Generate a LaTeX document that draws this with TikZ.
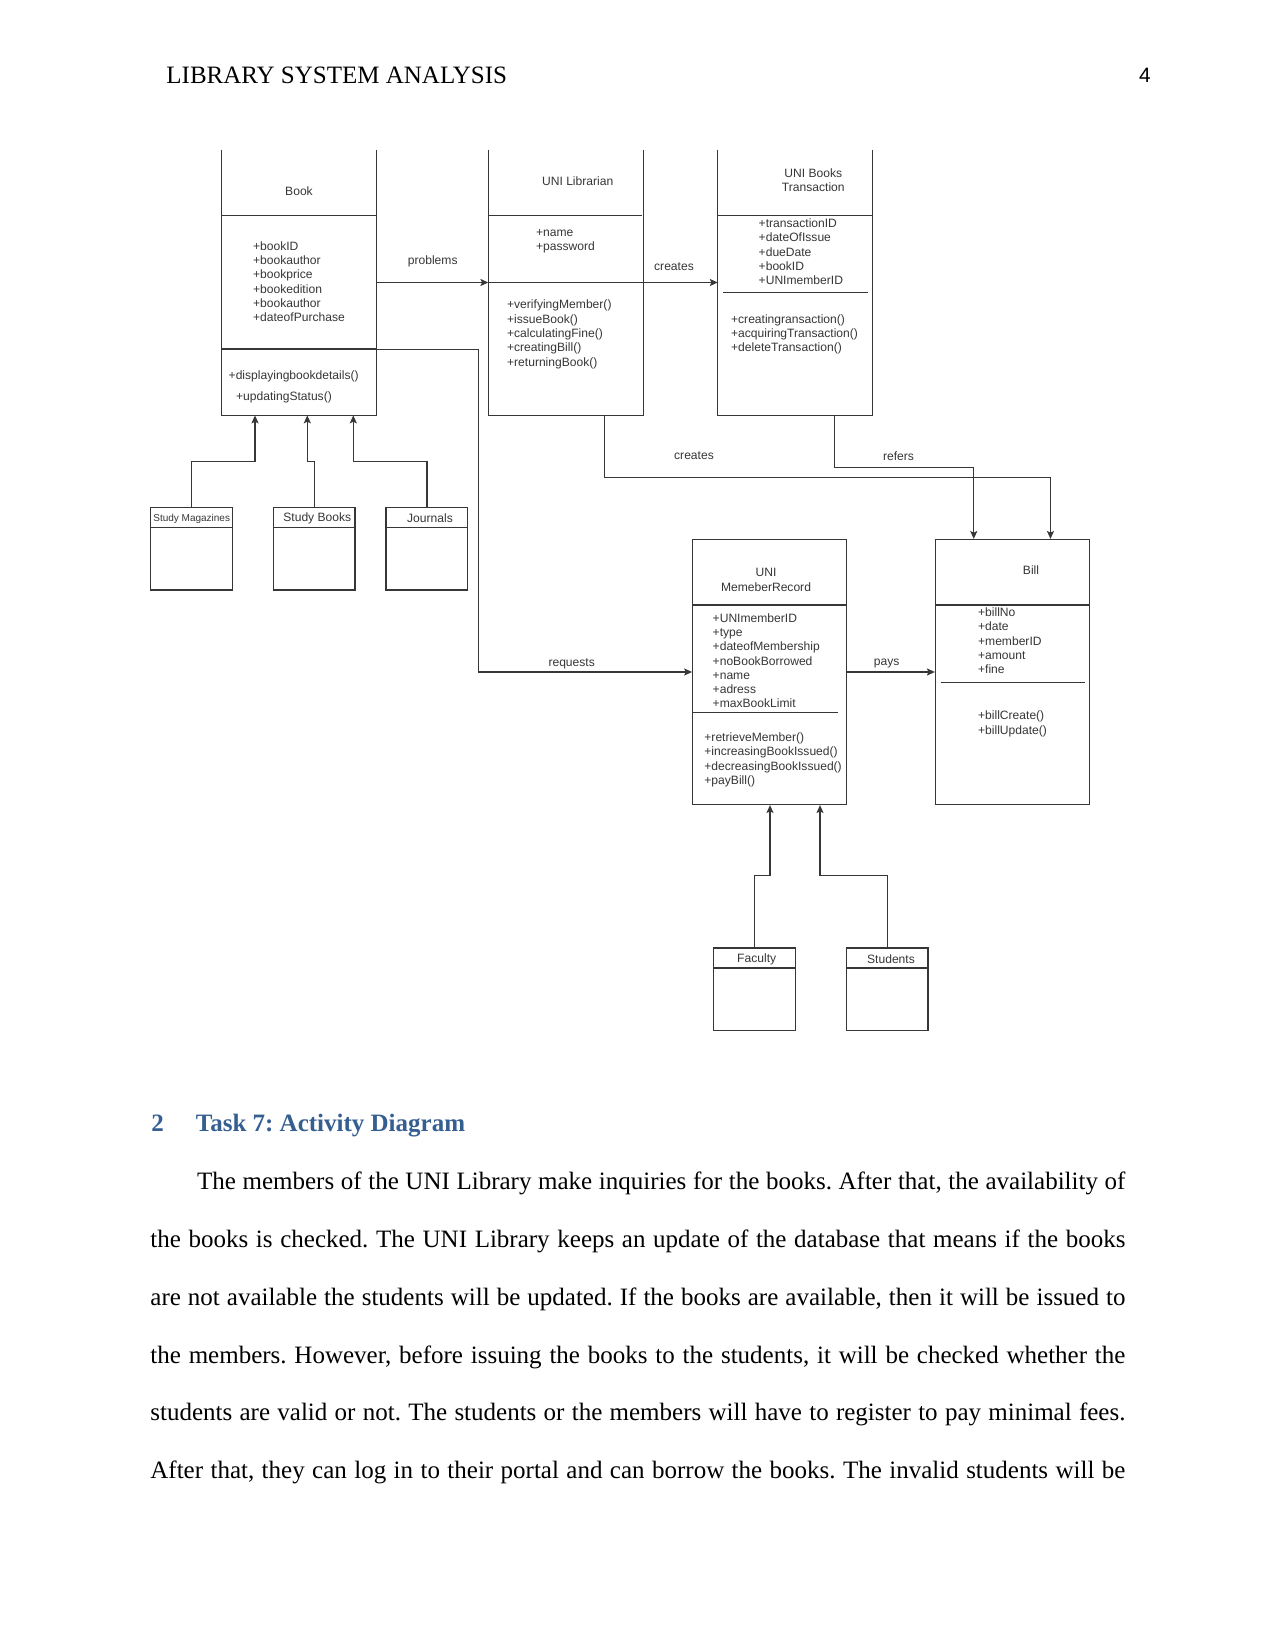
\documentclass[tikz,border=0pt]{standalone}
\usepackage{fontspec}
\setmainfont{Liberation Serif}
\newfontfamily\diagfont{Liberation Sans}
\usepackage{xcolor}
\usetikzlibrary{arrows.meta,positioning,calc}
\definecolor{headblue}{RGB}{54,95,145}
\definecolor{umlgray}{RGB}{55,55,55}
\newcommand{\umlsize}{\diagfont\fontsize{5.8}{6.86}\selectfont}
\newcommand{\subsize}{\diagfont\fontsize{4.8}{5.7}\selectfont}

\begin{document}
\begin{tikzpicture}[
  x=0.48pt, y=-0.48pt,
  cls/.style={minimum width=73.92pt, minimum height=127.2pt, inner sep=0pt},
  clsbox/.style={cls, draw=umlgray, line width=0.6pt},
  subbox/.style={draw=umlgray, line width=0.6pt, minimum width=39.2pt, minimum height=39.5pt, inner sep=0pt},
  edge/.style={draw=umlgray, line width=0.6pt},
  arr/.style={-{Stealth[length=3.8pt,width=3.4pt,inset=0.8pt]}, draw=umlgray, line width=0.6pt},
  title/.style={font=\umlsize, text=umlgray, align=center, inner sep=0pt},
  items/.style={font=\umlsize, text=umlgray, align=left, anchor=north west, inner sep=0pt, execute at begin node=\strut},
  lbl/.style={font=\umlsize, text=umlgray, inner sep=0pt},
  subtitle/.style={font=\subsize, text=umlgray, inner sep=0pt}
]
  \path[fill=white, use as bounding box] (0,0) rectangle (1275,1650);

  % Running head
  \node[anchor=base west, inner sep=0pt, font=\fontsize{12}{14}\selectfont] (runhead) at (166,83.3) {LIBRARY SYSTEM ANALYSIS};
  \node[anchor=base east, inner sep=0pt, font=\diagfont\fontsize{10}{12}\selectfont] (pagenum) at (1151,82.7) {4};

  % Top row of classes (cut off at the top)
  \node[cls] (book) at (299,282.5) {};
  \node[cls, right=53.7pt of book] (lib) {};
  \node[cls, right=35.8pt of lib] (trans) {};
  \draw[edge] (book.north west) |- (book.south east) -- (book.north east);
  \draw[edge] (lib.north west) |- (lib.south east) -- (lib.north east);
  \draw[edge] (trans.north west) |- (trans.south east) -- (trans.north east);

  % Middle row of classes
  \node[clsbox] (rec) at (769.7,672) {};
  \node[clsbox, right=42pt of rec] (bill) {};

  % Subclass boxes
  \node[subbox] (smag) at (191.5,548.9) {};
  \node[subbox, right=19.1pt of smag] (sbook) {};
  \node[subbox, right=14.3pt of sbook] (jour) {};
  \node[subbox] (fac) at (754.5,989.2) {};
  \node[subbox, right=23.9pt of fac] (stu) {};

  % Compartment lines
  \draw[edge] ($(book.north west)+(0,66)$) -- ++(154,0);
  \draw[edge] ($(book.north west)+(0,199.3)$) -- ++(154,0);
  \draw[edge] ($(lib.north west)+(0,66)$) -- ++(154,0);
  \draw[edge] (lib.west) -- (lib.east);
  \draw[edge] ($(trans.north west)+(0,66)$) -- ++(154,0);
  \draw[edge] ($(trans.north west)+(5.7,142.7)$) -- ++(145,0);
  \draw[edge] ($(rec.north west)+(0,66)$) -- ++(154,0);
  \draw[edge] ($(rec.north west)+(1.3,173.7)$) -- ++(144.3,0);
  \draw[edge] ($(bill.north west)+(0,66)$) -- ++(154,0);
  \draw[edge] ($(bill.north west)+(5.7,143.3)$) -- ++(144.3,0);
  \draw[edge] ($(smag.north west)+(0,20.6)$) -- ++(81.6,0);
  \draw[edge] ($(sbook.north west)+(0,20.6)$) -- ++(81.6,0);
  \draw[edge] ($(jour.north west)+(0,20.6)$) -- ++(81.6,0);
  \draw[edge] ($(fac.north west)+(0,20.6)$) -- ++(82.4,0);
  \draw[edge] ($(stu.north west)+(0,20.6)$) -- ++(82.4,0);

  % Book
  \node[title] (booktitle) at (299,190.7) {Book};
  \node[items] (bookattr) at (252.7,241) {+bookID\\+bookauthor\\+bookprice\\+bookedition\\+bookauthor\\+dateofPurchase};
  \node[items] (bookop1) at (228.3,369.3) {+displayingbookdetails()};
  \node[items] (bookop2) at (235.7,390) {+updatingStatus()};

  % UNI Librarian
  \node[title] (libtitle) at (577.7,180.7) {UNI Librarian};
  \node[items] (libattr) at (535.7,229) {+name\\+password};
  \node[items] (libop) at (506.7,299.7) {+verifyingMember()\\+issueBook()\\+calculatingFine()\\+creatingBill()\\+returningBook()};

  % UNI Books Transaction
  \node[title] (transtitle) at (813.3,180.5) {UNI Books\\Transaction};
  \node[items] (transattr) at (758.3,218.3) {+transactionID\\+dateOfIssue\\+dueDate\\+bookID\\+UNImemberID};
  \node[items] (transop) at (730.7,314) {+creatingransaction()\\+acquiringTransaction()\\+deleteTransaction()};

  % UNI MemeberRecord
  \node[title] (rectitle) at (766,579.8) {UNI\\MemeberRecord};
  \node[items] (recattr) at (712.3,613) {+UNImemberID\\+type\\+dateofMembership\\+noBookBorrowed\\+name\\+adress\\+maxBookLimit};
  \node[items] (recop) at (704,732.3) {+retrieveMember()\\+increasingBookIssued()\\+decreasingBookIssued()\\+payBill()};

  % Bill
  \node[title] (billtitle) at (1031,570) {Bill};
  \node[items] (billattr) at (977.7,607.3) {+billNo\\+date\\+memberID\\+amount\\+fine};
  \node[items] (billop) at (977.7,710.7) {+billCreate()\\+billUpdate()};

  % Subclass names
  \node[subtitle] (smagtitle) at (191.7,518.5) {Study Magazines};
  \node[lbl] (sbooktitle) at (317.3,518.5) {Study Books};
  \node[lbl] (jourtitle) at (430,518.5) {Journals};
  \node[lbl] (factitle) at (756.7,959) {Faculty};
  \node[lbl] (stutitle) at (891,959) {Students};

  % Associations
  \draw[arr] (book.east) -- (lib.west);
  \draw[arr] (lib.east) -- (trans.west);
  \draw[arr] ($(book.east)+(0,66.8)$) -- ++(102,0) |- (rec.west);
  \draw[arr] (rec.east) -- (bill.west);
  \draw[arr] ($(lib.south)+(39,0)$) -- ++(0,62) -| ($(bill.north)+(38,0)$);
  \draw[arr] ($(trans.south)+(39,0)$) -- ++(0,52) -| ($(bill.north)+(-38.7,0)$);
  \node[lbl] (lproblems) at (432.7,261.7) {problems};
  \node[lbl] (lcreates) at (674,266.7) {creates};
  \node[lbl] (lrequests) at (571.7,664) {requests};
  \node[lbl] (lpays) at (886.7,663.3) {pays};
  \node[lbl] (lcreatesbill) at (694,456) {creates};
  \node[lbl] (lrefers) at (898.5,456) {refers};

  % Generalisations
  \draw[arr] (smag.north) -- ++(0,-46) -| ($(book.south)+(-44,0)$);
  \draw[arr] (sbook.north) -- ++(0,-46) -| ($(book.south)+(8.3,0)$);
  \draw[arr] (jour.north) -- ++(0,-46) -| ($(book.south)+(54.3,0)$);
  \draw[arr] (fac.north) -- ++(0,-71.6) -| ($(rec.south)+(0.3,0)$);
  \draw[arr] (stu.north) -- ++(0,-71.6) -| ($(rec.south)+(50.3,0)$);

  % Section text
  \node[anchor=base west, inner sep=0pt, text=headblue, font=\fontsize{12}{14}\selectfont\bfseries] (secnum) at (151,1131.7) {2};
  \node[anchor=base west, inner sep=0pt, text=headblue, font=\fontsize{12}{14}\selectfont\bfseries\frenchspacing] (sectitle) at (195.5,1131.7) {Task 7: Activity Diagram};
  \node[anchor=north west, inner sep=0pt, text width=468pt, align=justify, font=\fontsize{12}{27.74}\selectfont\frenchspacing] (body) at (150,1148.8)
    {\strut\hspace*{22.4pt}The members of the UNI Library make inquiries for the books. After that, the availability of\linebreak
     the books is checked. The UNI Library keeps an update of the database that means if the books\linebreak
     are not available the students will be updated. If the books are available, then it will be issued to\linebreak
     the members. However, before issuing the books to the students, it will be checked whether the\linebreak
     students are valid or not. The students or the members will have to register to pay minimal fees.\linebreak
     After that, they can log in to their portal and can borrow the books. The invalid students will be\unskip\parfillskip=0pt\par};
\end{tikzpicture}
\end{document}
